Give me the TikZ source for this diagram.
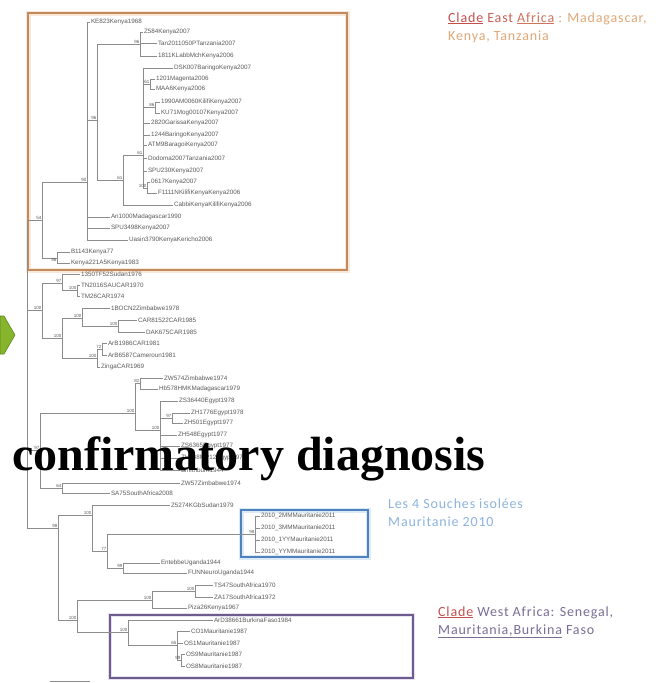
\documentclass[tikz,border=0pt]{standalone}
\usepackage{fontspec}
\setmainfont{Liberation Serif}
\newfontfamily\lblfont{Liberation Sans}
\newfontfamily\notefont[LetterSpace=6]{Carlito}
\definecolor{brc}{HTML}{8C8C8C}
\definecolor{lfc}{HTML}{5A5A5A}
\definecolor{orbox}{HTML}{C48A5C}
\definecolor{orhalo}{HTML}{F8E8DA}
\definecolor{blbox}{HTML}{4F81BD}
\definecolor{blhalo}{HTML}{DCE9F7}
\definecolor{pubox}{HTML}{6E5C8E}
\definecolor{puhalo}{HTML}{E6E0F0}
\definecolor{greenA}{HTML}{86B42C}
\definecolor{greenB}{HTML}{5E8A1A}
\definecolor{eaText}{HTML}{E0A878}
\definecolor{clRed}{HTML}{C0504D}
\definecolor{lesBlue}{HTML}{8DB3DE}
\definecolor{waText}{HTML}{7A6E96}
\begin{document}
\begin{tikzpicture}[x=1pt,y=-1pt,
  br/.style={draw=brc, line width=0.6pt},
  leaf/.style={anchor=west, inner sep=0.8pt, font=\lblfont\fontsize{6.3}{7}\selectfont, text=lfc},
  bs/.style={anchor=south east, inner sep=0.4pt, font=\lblfont\fontsize{4.5}{5}\selectfont, text=lfc},
  note/.style={anchor=base west, inner sep=0pt, font=\notefont\fontsize{14}{18}\selectfont, align=left}]
\useasboundingbox (0,0) rectangle (657,683);
\fill[white] (0,0) rectangle (657,683);
% boxes
\draw[orhalo, line width=5pt] (28,13) rectangle (347,270);
\draw[orbox, line width=1.6pt] (28,13) rectangle (347,270);
\draw[blhalo, line width=5pt] (241,510) rectangle (368,557);
\draw[blbox, line width=1.6pt] (241,510) rectangle (368,557);
\draw[puhalo, line width=4pt] (110,615) rectangle (413,678);
\draw[pubox, line width=1.4pt] (110,615) rectangle (413,678);
% green chevron
\fill[greenA, draw=greenB, line width=0.6pt] (0,316) -- (4,316) -- (15,335) -- (4,354) -- (0,354) -- cycle;
% ---------- leaves: East Africa ----------
\node[leaf] (L1) at (90,22) {KE823Kenya1968};
\node[leaf] (L2) at (143,32) {Z584Kenya2007};
\node[leaf] (L3) at (157,43) {Tan2011050PTanzania2007};
\node[leaf] (L4) at (157,56) {1811KLabbMchKenya2006};
\node[leaf] (L5) at (173,68) {DSK007BaringoKenya2007};
\node[leaf] (L6) at (155,79) {1201Magenta2006};
\node[leaf] (L7) at (155,89) {MAA6Kenya2006};
\node[leaf] (L8) at (160,102) {1990AM0060KilifiKenya2007};
\node[leaf] (L9) at (160,113) {KU71Mog00107Kenya2007};
\node[leaf] (L10) at (150,123) {2820GarissaKenya2007};
\node[leaf] (L11) at (150,135) {1244BaringoKenya2007};
\node[leaf] (L12) at (147,145) {ATM9BaragoiKenya2007};
\node[leaf] (L13) at (147,158) {Dodoma2007Tanzania2007};
\node[leaf] (L14) at (147,171) {SPU230Kenya2007};
\node[leaf] (L15) at (150,182) {0617Kenya2007};
\node[leaf] (L16) at (157,193) {F1111NKilifiKenyaKenya2006};
\node[leaf] (L17) at (173,205) {CabbiKenyaKilifiKenya2006};
\node[leaf] (L18) at (110,217) {An1000Madagascar1990};
\node[leaf] (L19) at (110,228) {SPU3498Kenya2007};
\node[leaf] (L20) at (128,240) {Uasin3790KenyaKericho2006};
\node[leaf] (L21) at (70,252) {B1143Kenya77};
\node[leaf] (L22) at (70,263) {Kenya221A5Kenya1983};
% ---------- leaves: others ----------
\node[leaf] (M1) at (80,274) {1350TF52Sudan1976};
\node[leaf] (M2) at (80,285) {TN2016SAUCAR1970};
\node[leaf] (M3) at (80,296) {TM26CAR1974};
\node[leaf] (M4) at (110,308) {1BOCN2Zimbabwe1978};
\node[leaf] (M5) at (137,320) {CAR81522CAR1985};
\node[leaf] (M6) at (145,332) {DAK675CAR1985};
\node[leaf] (M7) at (107,343) {ArB1986CAR1981};
\node[leaf] (M8) at (107,355) {ArB6587Cameroun1981};
\node[leaf] (M9) at (100,367) {ZingaCAR1969};
\node[leaf] (M10) at (163,378) {ZW574Zimbabwe1974};
\node[leaf] (M11) at (158,389) {Hb578HMKMadagascar1979};
\node[leaf] (M12) at (178,401) {ZS36440Egypt1978};
\node[leaf] (M13) at (190,413) {ZH1776Egypt1978};
\node[leaf] (M14) at (183,423) {ZH501Egypt1977};
\node[leaf] (M15) at (177,435) {ZH548Egypt1977};
\node[leaf] (M16) at (180,446) {ZS6365Egypt1977};
\node[leaf] (M17) at (180,458) {ZH548MP12Egypt1977};
\node[leaf] (M18) at (180,470) {Smithburn1944};
\node[leaf] (M19) at (180,483) {ZW57Zimbabwe1974};
\node[leaf] (M20) at (110,493) {SA75SouthAfrica2008};
\node[leaf] (M21) at (170,505) {Z5274KGbSudan1979};
\node[leaf] (M22) at (260,516) {2010\_2MMMauritanie2011};
\node[leaf] (M23) at (260,528) {2010\_3MMMauritanie2011};
\node[leaf] (M24) at (260,540) {2010\_1YYMauritanie2011};
\node[leaf] (M25) at (260,552) {2010\_YYMMauritanie2011};
\node[leaf] (M26) at (160,563) {EntebbeUganda1944};
\node[leaf] (M27) at (187,573) {FUNNeuroUganda1944};
\node[leaf] (M28) at (213,585) {TS47SouthAfrica1970};
\node[leaf] (M29) at (213,597) {ZA17SouthAfrica1972};
\node[leaf] (M30) at (187,608) {Piza26Kenya1967};
\node[leaf] (M31) at (213,620) {ArD38661BurkinaFaso1984};
\node[leaf] (M32) at (190,631) {CO1Mauritanie1987};
\node[leaf] (M33) at (183,643) {OS1Mauritanie1987};
\node[leaf] (M34) at (185,654) {OS9Mauritanie1987};
\node[leaf] (M35) at (185,666) {OS8Mauritanie1987};
% ---------- internal nodes ----------
\coordinate (na) at (140,44);
\coordinate (nd) at (150,84);
\coordinate (ne) at (155,107);
\coordinate (nf) at (147,188);
\coordinate (nc) at (143,155);
\coordinate (ng) at (123,180);
\coordinate (nb) at (97,120);
\coordinate (nA) at (87,182);
\coordinate (nB) at (57,258);
\coordinate (E0) at (42,220);
\coordinate (p1) at (77,290);
\coordinate (p2) at (62,283);
\coordinate (p7) at (118,326);
\coordinate (p5) at (82,318);
\coordinate (p8a) at (102,349);
\coordinate (p8) at (97,358);
\coordinate (p4) at (62,338);
\coordinate (p3) at (42,310);
\coordinate (q2) at (140,383);
\coordinate (q4) at (172,418);
\coordinate (q3) at (160,430);
\coordinate (q1) at (135,413);
\coordinate (q6) at (62,488);
\coordinate (q5) at (40,450);
\coordinate (s1) at (255,534);
\coordinate (s3) at (123,568);
\coordinate (s2) at (107,551);
\coordinate (s4) at (92,515);
\coordinate (t1) at (195,591);
\coordinate (t2) at (152,600);
\coordinate (t5) at (181,660);
\coordinate (t4) at (177,645);
\coordinate (t3) at (128,632);
\coordinate (t6) at (77,620);
\coordinate (u1) at (58,528);
\coordinate (R) at (27,374);
% ---------- branches ----------
\foreach \c in {L2,L3,L4} \draw[br] (na) |- (\c.west);
\foreach \c in {L6,L7} \draw[br] (nd) |- (\c.west);
\foreach \c in {L8,L9} \draw[br] (ne) |- (\c.west);
\foreach \c in {L15,L16} \draw[br] (nf) |- (\c.west);
\foreach \c in {L5,L10,L11,L12,L13,L14} \draw[br] (nc) |- (\c.west);
\foreach \c in {nd,ne,nf} \draw[br] (nc) |- (\c);
\draw[br] (ng) |- (nc); \draw[br] (ng) |- (L17.west);
\draw[br] (nb) |- (na); \draw[br] (nb) |- (ng);
\foreach \c in {L1,L18,L19,L20} \draw[br] (nA) |- (\c.west);
\draw[br] (nA) |- (nb);
\foreach \c in {L21,L22} \draw[br] (nB) |- (\c.west);
\draw[br] (E0) |- (nA); \draw[br] (E0) |- (nB);
\foreach \c in {M2,M3} \draw[br] (p1) |- (\c.west);
\draw[br] (p2) |- (M1.west); \draw[br] (p2) |- (p1);
\foreach \c in {M5,M6} \draw[br] (p7) |- (\c.west);
\draw[br] (p5) |- (M4.west); \draw[br] (p5) |- (p7);
\foreach \c in {M7,M8} \draw[br] (p8a) |- (\c.west);
\draw[br] (p8) |- (p8a); \draw[br] (p8) |- (M9.west);
\draw[br] (p4) |- (p5); \draw[br] (p4) |- (p8);
\draw[br] (p3) |- (p2); \draw[br] (p3) |- (p4);
\foreach \c in {M10,M11} \draw[br] (q2) |- (\c.west);
\foreach \c in {M13,M14} \draw[br] (q4) |- (\c.west);
\foreach \c in {M12,M15,M16,M17,M18} \draw[br] (q3) |- (\c.west);
\draw[br] (q3) |- (q4);
\draw[br] (q1) |- (q2); \draw[br] (q1) |- (q3);
\foreach \c in {M19,M20} \draw[br] (q6) |- (\c.west);
\draw[br] (q5) |- (q1); \draw[br] (q5) |- (q6);
\foreach \c in {M22,M23,M24,M25} \draw[br] (s1) |- (\c.west);
\foreach \c in {M26,M27} \draw[br] (s3) |- (\c.west);
\draw[br] (s2) |- (s1); \draw[br] (s2) |- (s3);
\draw[br] (s4) |- (M21.west); \draw[br] (s4) |- (s2);
\foreach \c in {M28,M29} \draw[br] (t1) |- (\c.west);
\draw[br] (t2) |- (t1); \draw[br] (t2) |- (M30.west);
\foreach \c in {M34,M35} \draw[br] (t5) |- (\c.west);
\foreach \c in {M32,M33} \draw[br] (t4) |- (\c.west);
\draw[br] (t4) |- (t5);
\draw[br] (t3) |- (M31.west); \draw[br] (t3) |- (t4);
\draw[br] (t6) |- (t2); \draw[br] (t6) |- (t3);
\draw[br] (u1) |- (s4); \draw[br] (u1) |- (t6);
\foreach \c in {E0,p3,q5,u1} \draw[br] (R) |- (\c);
% ---------- bootstrap values ----------
\node[bs] at (na) {96};
\node[bs] at (nd) {61};
\node[bs] at (ne) {86};
\node[bs] at (nf) {100};
\node[bs] at (nc) {61};
\node[bs] at (ng) {61};
\node[bs] at (nb) {96};
\node[bs] at (nA) {90};
\node[bs, anchor=north east] at (nB) {96};
\node[bs] at (E0) {54};
\node[bs] at (p1) {100};
\node[bs] at (p2) {97};
\node[bs] at (p7) {100};
\node[bs] at (p5) {100};
\node[bs] at (p8a) {72};
\node[bs] at (p8) {100};
\node[bs] at (p4) {100};
\node[bs] at (p3) {100};
\node[bs] at (q2) {82};
\node[bs] at (q4) {97};
\node[bs] at (q3) {100};
\node[bs] at (q1) {100};
\node[bs] at (q6) {64};
\node[bs] at (q5) {97};
\node[bs] at (s1) {98};
\node[bs] at (s3) {99};
\node[bs] at (s2) {77};
\node[bs] at (s4) {100};
\node[bs] at (t1) {100};
\node[bs] at (t2) {100};
\node[bs] at (t5) {99};
\node[bs] at (t4) {65};
\node[bs] at (t3) {100};
\node[bs] at (t6) {100};
\node[bs] at (u1) {98};
% scale bar
\coordinate (sb1) at (50,681.5);
\coordinate (sb2) at (90,681.5);
\draw[br, line width=0.8pt] (sb1) -- (sb2);
% ---------- annotations ----------
\node[note] (ea) at (448,40) {\textcolor{clRed}{\underline{Clade}} \textcolor{clRed!80!eaText}{East} \textcolor{clRed!60!eaText}{\underline{Africa}} \textcolor{eaText}{: Madagascar,}\\\textcolor{eaText}{Kenya, Tanzania}};
\node[note, text=lesBlue] (les) at (388,526) {Les 4 Souches isolées\\Mauritanie 2010};
\node[note, text=waText] (wa) at (438,634) {\textcolor{clRed}{\underline{Clade}} West Africa: Senegal,\\\underline{Mauritania,Burkina} Faso};
% big title
\node[anchor=base west, inner sep=0pt, font=\fontsize{48}{50}\selectfont\bfseries] (title) at (12,470) {confirmatory diagnosis};
\end{tikzpicture}
\end{document}
